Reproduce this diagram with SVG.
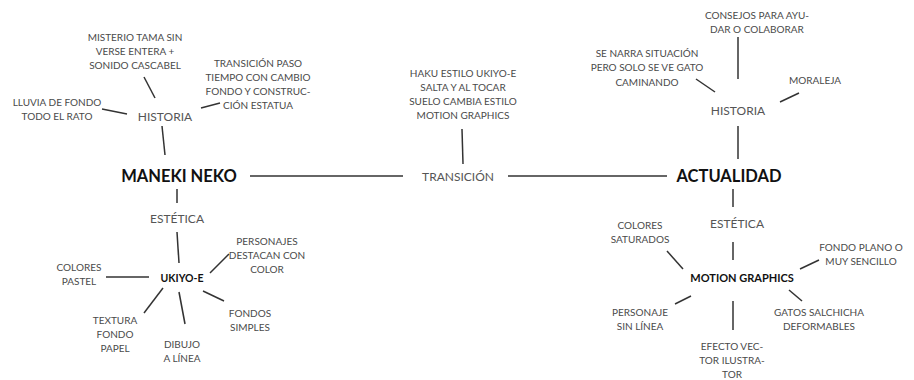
<svg xmlns="http://www.w3.org/2000/svg" width="914" height="380" viewBox="0 0 914 380">
<style>
text{font-family:Lato,"Open Sans","Liberation Sans",sans-serif;text-anchor:middle}
.s{font-size:10px;fill:#4a4a4a}
.m{font-size:12px;fill:#555}
.b{font-size:16.5px;font-weight:bold;fill:#111}
.bs{font-size:10.5px;font-weight:bold;fill:#111}
.bm{font-size:11px;font-weight:bold;fill:#111}
#connectors line{stroke:#333;stroke-width:1.5}
</style>
<rect width="914" height="380" fill="#fff"/>
<g id="connectors">
<line x1="250" y1="176" x2="403" y2="176"/>
<line x1="508" y1="176" x2="667" y2="176"/>
<line x1="462" y1="129" x2="463" y2="164"/>
<line x1="144" y1="77" x2="155" y2="98"/>
<line x1="201" y1="108" x2="220" y2="103"/>
<line x1="102" y1="109" x2="127" y2="114"/>
<line x1="162" y1="126" x2="165" y2="155"/>
<line x1="177" y1="189" x2="177" y2="203"/>
<line x1="177" y1="232" x2="179" y2="263"/>
<line x1="210" y1="273" x2="229" y2="254"/>
<line x1="106" y1="277" x2="149" y2="277"/>
<line x1="163" y1="288" x2="144" y2="313"/>
<line x1="179" y1="292" x2="185" y2="324"/>
<line x1="203" y1="291" x2="224" y2="301"/>
<line x1="738" y1="126" x2="738" y2="159"/>
<line x1="738" y1="37" x2="738" y2="79"/>
<line x1="696" y1="79" x2="715" y2="92"/>
<line x1="780" y1="102" x2="799" y2="93"/>
<line x1="733" y1="189" x2="733" y2="207"/>
<line x1="733" y1="242" x2="733" y2="260"/>
<line x1="667" y1="251" x2="683" y2="269"/>
<line x1="800" y1="269" x2="819" y2="260"/>
<line x1="675" y1="304" x2="691" y2="296"/>
<line x1="733" y1="301" x2="733" y2="330"/>
<line x1="789" y1="290" x2="802" y2="301"/>
</g>
<g id="maneki"><text class="b" x="179" y="182">MANEKI NEKO</text></g>
<g id="transicion"><text class="m" x="458" y="180.5">TRANSICIÓN</text></g>
<g id="actualidad"><text class="b" x="729" y="182">ACTUALIDAD</text></g>
<g id="haku"><text class="s"><tspan x="463" y="76.5">HAKU ESTILO UKIYO-E</tspan><tspan x="463" y="90.5">SALTA Y AL TOCAR</tspan><tspan x="463" y="104.5">SUELO CAMBIA ESTILO</tspan><tspan x="463" y="118.5">MOTION GRAPHICS</tspan></text></g>
<g id="historia-l"><text class="m" x="165" y="120.5">HISTORIA</text></g>
<g id="misterio"><text class="s"><tspan x="135" y="40.5">MISTERIO TAMA SIN</tspan><tspan x="135" y="54.5">VERSE ENTERA +</tspan><tspan x="135" y="68.5">SONIDO CASCABEL</tspan></text></g>
<g id="transicion-paso"><text class="s"><tspan x="258" y="66.5">TRANSICIÓN PASO</tspan><tspan x="258" y="81">TIEMPO CON CAMBIO</tspan><tspan x="258" y="95">FONDO Y CONSTRUC-</tspan><tspan x="258" y="108.5">CIÓN ESTATUA</tspan></text></g>
<g id="lluvia"><text class="s"><tspan x="57" y="105.5">LLUVIA DE FONDO</tspan><tspan x="57" y="120">TODO EL RATO</tspan></text></g>
<g id="estetica-l"><text class="m" x="177" y="222.5">ESTÉTICA</text></g>
<g id="ukiyo"><text class="bs" x="182" y="282">UKIYO-E</text></g>
<g id="personajes"><text class="s"><tspan x="267" y="244.5">PERSONAJES</tspan><tspan x="267" y="258.5">DESTACAN CON</tspan><tspan x="267" y="272.5">COLOR</tspan></text></g>
<g id="pastel"><text class="s"><tspan x="79" y="270.5">COLORES</tspan><tspan x="79" y="284.5">PASTEL</tspan></text></g>
<g id="textura"><text class="s"><tspan x="115" y="323.5">TEXTURA</tspan><tspan x="115" y="337.5">FONDO</tspan><tspan x="115" y="351.5">PAPEL</tspan></text></g>
<g id="dibujo"><text class="s"><tspan x="182" y="347.5">DIBUJO</tspan><tspan x="182" y="361.5">A LÍNEA</tspan></text></g>
<g id="fondos"><text class="s"><tspan x="250" y="316.5">FONDOS</tspan><tspan x="250" y="330.5">SIMPLES</tspan></text></g>
<g id="historia-r"><text class="m" x="738" y="114.5">HISTORIA</text></g>
<g id="consejos"><text class="s"><tspan x="757" y="18.5">CONSEJOS PARA AYU-</tspan><tspan x="757" y="32.5">DAR O COLABORAR</tspan></text></g>
<g id="narra"><text class="s"><tspan x="647" y="56.5">SE NARRA SITUACIÓN</tspan><tspan x="647" y="71">PERO SOLO SE VE GATO</tspan><tspan x="647" y="85.5">CAMINANDO</tspan></text></g>
<g id="moraleja"><text class="s" x="815" y="83.5">MORALEJA</text></g>
<g id="estetica-r"><text class="m" x="737" y="227.5">ESTÉTICA</text></g>
<g id="motion"><text class="bm" x="742" y="282">MOTION GRAPHICS</text></g>
<g id="saturados"><text class="s"><tspan x="640" y="228.5">COLORES</tspan><tspan x="640" y="242.5">SATURADOS</tspan></text></g>
<g id="fondo-plano"><text class="s"><tspan x="861" y="250.5">FONDO PLANO O</tspan><tspan x="861" y="265">MUY SENCILLO</tspan></text></g>
<g id="personaje"><text class="s"><tspan x="640" y="315.5">PERSONAJE</tspan><tspan x="640" y="330">SIN LÍNEA</tspan></text></g>
<g id="efecto"><text class="s"><tspan x="732" y="349.5">EFECTO VEC-</tspan><tspan x="732" y="363.5">TOR ILUSTRA-</tspan><tspan x="732" y="377.5">TOR</tspan></text></g>
<g id="gatos"><text class="s"><tspan x="819" y="315.5">GATOS SALCHICHA</tspan><tspan x="819" y="330">DEFORMABLES</tspan></text></g>
</svg>
